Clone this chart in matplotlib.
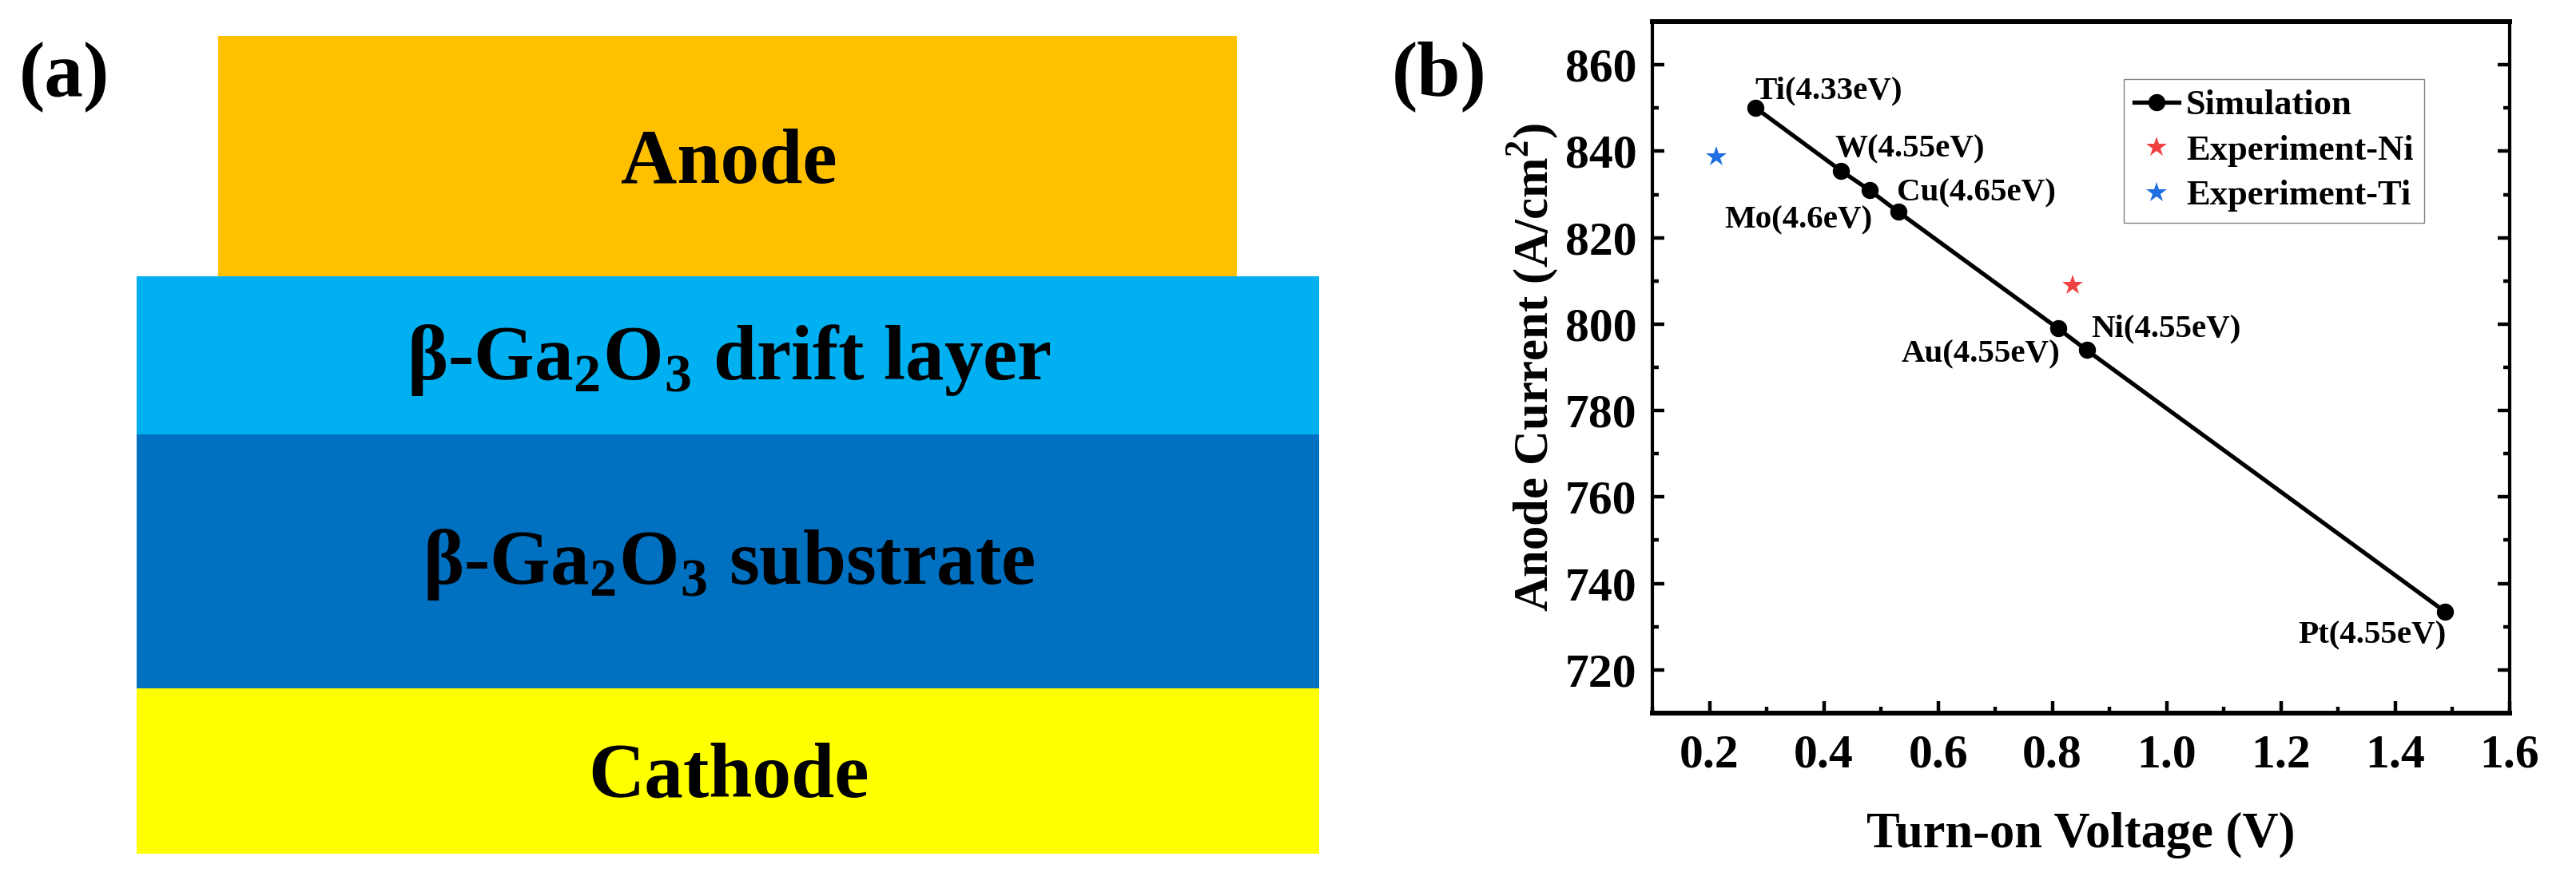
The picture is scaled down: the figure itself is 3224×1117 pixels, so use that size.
import matplotlib
matplotlib.use('Agg')
import matplotlib.pyplot as plt
from matplotlib.patches import Rectangle
from matplotlib.ticker import MultipleLocator

plt.rcParams['font.family'] = ['Liberation Serif', 'DejaVu Serif']
plt.rcParams['font.weight'] = 'bold'
plt.rcParams['axes.labelweight'] = 'bold'
plt.rcParams['mathtext.fontset'] = 'custom'
plt.rcParams['mathtext.rm'] = 'Liberation Serif:bold'
plt.rcParams['mathtext.bf'] = 'Liberation Serif:bold'

# panel (a) layers
layer_names = ['Anode',
               r'β-Ga$_{\mathbf{2}}$O$_{\mathbf{3}}$ drift layer',
               r'β-Ga$_{\mathbf{2}}$O$_{\mathbf{3}}$ substrate',
               'Cathode']
layer_colors = ['#FFC000', '#00B0F0', '#0070C0', '#FFFF00']
layer_left = [272.5, 170.5, 170.5, 170.5]
layer_right = [1548, 1650.5, 1650.5, 1650.5]
layer_top = [45, 345.5, 543.5, 861.5]
layer_bottom = [345.5, 543.5, 861.5, 1069]
layer_text_y = [205, 451, 707, 974]

# panel (b) data
voltage = [0.281, 0.43, 0.48, 0.53, 0.81, 0.86, 1.487]
current = [850, 835.5, 831, 826, 799, 794, 733.5]
exp_ni_x, exp_ni_y = [0.835], [809]
exp_ti_x, exp_ti_y = [0.212], [838.8]
point_labels = ['Ti(4.33eV)', 'W(4.55eV)', 'Cu(4.65eV)', 'Mo(4.6eV)',
                'Ni(4.55eV)', 'Au(4.55eV)', 'Pt(4.55eV)']
label_x = [0.28, 0.42, 0.528, 0.226, 0.868, 0.536, 1.23]
label_y = [854, 840.4, 830.3, 824, 798.9, 793, 728]
x_ticks = [0.2, 0.4, 0.6, 0.8, 1.0, 1.2, 1.4, 1.6]
y_ticks = [720, 740, 760, 780, 800, 820, 840, 860]

W, H = 3224, 1117
fig = plt.figure(figsize=(W / 100, H / 100), dpi=100)

ax_a = fig.add_axes([0, 0, 1, 1])
ax_a.set_xlim(0, W)
ax_a.set_ylim(H, 0)
ax_a.axis('off')

for i in range(len(layer_names)):
    ax_a.add_patch(Rectangle((layer_left[i], layer_top[i]),
                             layer_right[i] - layer_left[i],
                             layer_bottom[i] - layer_top[i],
                             facecolor=layer_colors[i], edgecolor='none'))
    ax_a.text(912, layer_text_y[i], layer_names[i], fontsize=70, color='black',
              ha='center', va='center')

ax_a.text(80, 97, '(a)', fontsize=70, ha='center', va='center')
ax_a.text(1801, 96, '(b)', fontsize=70, ha='center', va='center')

ax = fig.add_axes([2068 / W, 1 - 893 / H, 1072.7 / W, 866 / H])
ax.plot(voltage, current, color='black', linewidth=3.8, marker='o',
        markersize=14.4, label='Simulation')
ax.plot(exp_ni_x, exp_ni_y, linestyle='none', marker='*', markersize=19,
        color='#F04040', markeredgewidth=0, label='Experiment-Ni')
ax.plot(exp_ti_x, exp_ti_y, linestyle='none', marker='*', markersize=19,
        color='#1F6FE0', markeredgewidth=0, label='Experiment-Ti')

for i in range(len(point_labels)):
    ax.text(label_x[i], label_y[i], point_labels[i], fontsize=29.5,
            ha='left', va='center')

ax.set_xlim(0.1, 1.6)
ax.set_ylim(710, 870)
ax.set_xticks(x_ticks)
ax.set_yticks(y_ticks)
ax.xaxis.set_minor_locator(MultipleLocator(0.1))
ax.yaxis.set_minor_locator(MultipleLocator(10))
ax.tick_params(axis='both', which='major', direction='in', length=11, width=3.2,
               labelsize=43, right=True)
ax.tick_params(axis='both', which='minor', direction='in', length=6, width=3.2,
               right=True)
ax.tick_params(axis='x', which='major', pad=19)
ax.tick_params(axis='y', which='major', pad=14)
ax.set_xticklabels([f'{t:.1f}' for t in x_ticks])
ax.spines['left'].set_linewidth(3)
ax.spines['right'].set_linewidth(3)
ax.spines['top'].set_linewidth(4.3)
ax.spines['bottom'].set_linewidth(4.3)

ax.set_xlabel('Turn-on Voltage (V)', fontsize=45, labelpad=31)
ax.set_ylabel(r'Anode Current (A/cm$^{\mathbf{2}}$)', fontsize=43.7, labelpad=5)

ax.legend(loc='upper left', bbox_to_anchor=(0.55, 0.917), fontsize=32,
          fancybox=False, framealpha=1, edgecolor='#808080', borderaxespad=0,
          handlelength=1.25, handletextpad=0.2, labelspacing=0.37,
          borderpad=0.3)

fig.savefig('out.png', dpi=100)
